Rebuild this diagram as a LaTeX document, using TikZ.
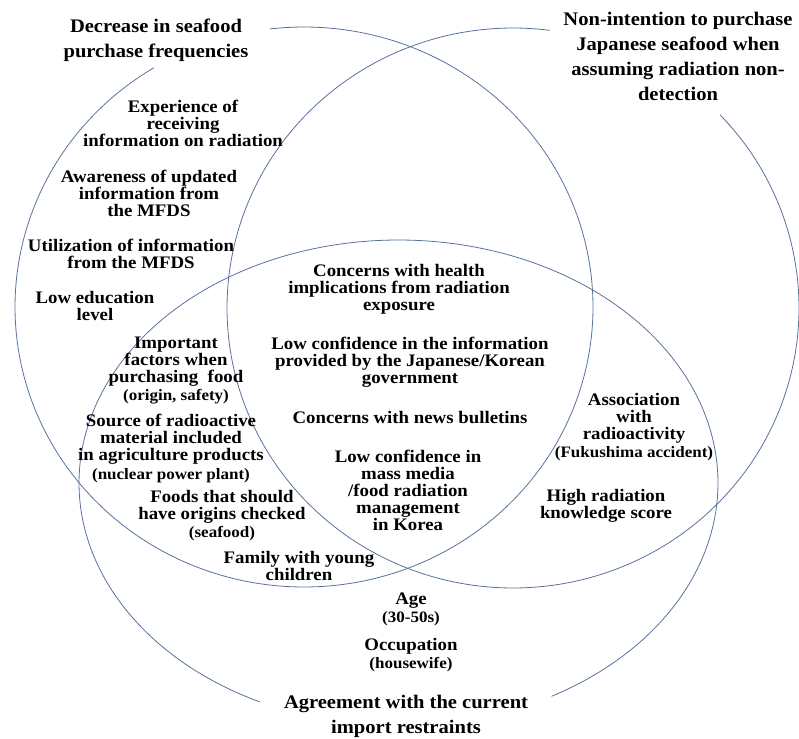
\documentclass[tikz,border=0pt]{standalone}
\usepackage{fontspec}
\setmainfont{Liberation Serif}[FakeStretch=1.07]
\definecolor{ringblue}{RGB}{88,114,156}
\newcommand\parenline[1]{{\fontsize{15.9}{17}\selectfont #1}}
\begin{document}
\begin{tikzpicture}[x=1pt,y=-1pt,
  ring/.style={draw=ringblue, line width=0.8pt},
  lbl/.style={inner sep=0pt, align=center, text=black, font=\bfseries\fontsize{17.6}{17}\selectfont},
  ttl/.style={inner sep=0pt, align=center, text=black, font=\bfseries\fontsize{19.2}{25}\selectfont}]
\useasboundingbox (0,0) rectangle (799,738);

% circle A: Decrease in seafood purchase frequencies
\draw[ring] plot[domain=263.2:598.7, samples=300, variable=\t] ({304+289*cos(\t)},{307+280*sin(\t)});
% circle B: Non-intention to purchase
\draw[ring] plot[domain=-43.6:277.4, samples=300, variable=\t] ({513+286*cos(\t)},{308+280*sin(\t)});
% ellipse C: Agreement with import restraints
\draw[ring] plot[domain=115.7:421.4, samples=300, variable=\t] ({398.5+319.5*cos(\t)},{483+243*sin(\t)});

% titles
\node[ttl] (tA) at (156,40) {Decrease in seafood\\purchase frequencies};
\node[ttl] (tB) at (678,56) {Non-intention to purchase\\Japanese seafood when\\assuming radiation non-\\detection};
\node[ttl] (tC) at (406,716) {Agreement with the current\\import restraints};

% A only
\node[lbl] (n1) at (183,123) {Experience of\\receiving\\information on radiation};
\node[lbl] (n2) at (149,193) {Awareness of updated\\information from\\the MFDS};
\node[lbl] (n3) at (131,254) {Utilization of information\\from the MFDS};
\node[lbl] (n4) at (95,306) {Low education\\level};

% A and C
\node[lbl] (n5) at (176,370) {Important\\factors when\\purchasing~~food\\[1pt]\parenline{(origin, safety)}};
\node[lbl] (n6) at (171,448) {Source of radioactive\\material included\\in agriculture products\\[2pt]\parenline{(nuclear power plant)}};
\node[lbl] (n7) at (222,516) {Foods that should\\have origins checked\\[1pt]\parenline{(seafood)}};
\node[lbl] (n8) at (299,566) {Family with young\\children};

% C only
\node[lbl] (n9) at (411,609) {Age\\[1pt]\parenline{(30-50s)}};
\node[lbl] (n10) at (411,655) {Occupation\\[1pt]\parenline{(housewife)}};

% center
\node[lbl] (n11) at (399,289) {Concerns with health\\implications from radiation\\exposure};
\node[lbl] (n12) at (410,362) {Low confidence in the information\\provided by the Japanese/Korean\\government};
\node[lbl] (n13) at (410,417) {Concerns with news bulletins};
\node[lbl] (n14) at (408,490) {Low confidence in\\mass media\\/food radiation\\management\\in Korea};

% B and C
\node[lbl] (n15) at (634,427) {Association\\with\\radioactivity\\[1pt]\parenline{(Fukushima accident)}};
\node[lbl] (n16) at (606,506) {High radiation\\knowledge score};
\end{tikzpicture}
\end{document}
